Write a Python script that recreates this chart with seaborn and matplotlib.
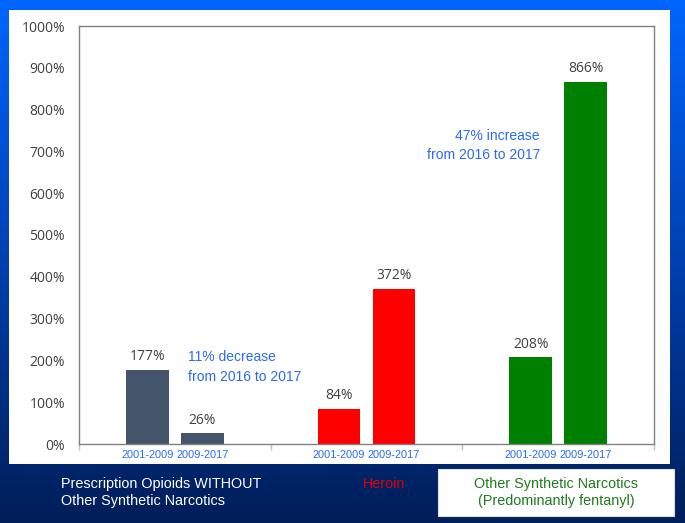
import numpy as np
import pandas as pd
import matplotlib
matplotlib.use("Agg")
import matplotlib.pyplot as plt
from matplotlib.colors import LinearSegmentedColormap
from matplotlib.patches import Rectangle
import seaborn as sns

# ---- data ----
categories = ["Prescription Opioids WITHOUT\nOther Synthetic Narcotics",
              "Heroin",
              "Other Synthetic Narcotics\n(Predominantly fentanyl)"]
periods = ["2001-2009", "2009-2017"]
values_2001_2009 = [177, 84, 208]
values_2009_2017 = [26, 372, 866]
bar_colors = ["#44546A", "#FF0000", "#008000"]
category_text_colors = ["#FFFFFF", "#E00000", "#1E7B1E"]
yticks = [0, 100, 200, 300, 400, 500, 600, 700, 800, 900, 1000]
note_decrease = "11% decrease\nfrom 2016 to 2017"
note_increase = "47% increase\nfrom 2016 to 2017"

df = pd.DataFrame({
    "category": categories * 2,
    "period": [periods[0]] * 3 + [periods[1]] * 3,
    "value": values_2001_2009 + values_2009_2017,
})

sns.set_theme(style="white")
plt.rcParams["font.family"] = ["Open Sans", "DejaVu Sans"]
ARIAL = ["Liberation Sans", "DejaVu Sans"]

W, H = 685, 523
fig = plt.figure(figsize=(W / 100, H / 100), dpi=100)

# background gradient
bg = fig.add_axes([0, 0, 1, 1], zorder=-10)
cmap = LinearSegmentedColormap.from_list("bgblue", ["#001E58", "#0040B0", "#0066FF"])
grad = np.linspace(0, 1, 256).reshape(-1, 1)
bg.imshow(grad, aspect="auto", cmap=cmap, extent=[0, 1, 0, 1], origin="lower")
bg.set_axis_off()

def fx(px):
    return px / W

def fy(py):
    return 1 - py / H

# white panel
fig.patches.append(Rectangle((fx(9), fy(464)), fx(670) - fx(9), fy(10) - fy(464),
                             transform=fig.transFigure, facecolor="white",
                             edgecolor="none", zorder=-5))
# green legend box
fig.patches.append(Rectangle((fx(438), fy(516)), fx(674) - fx(438), fy(469) - fy(516),
                             transform=fig.transFigure, facecolor="white",
                             edgecolor="#DDDDDD", linewidth=0.8, zorder=-5))

ax = fig.add_axes([fx(79), fy(444), fx(654) - fx(79), fy(26) - fy(444)])
sns.barplot(data=df, x="category", y="value", hue="period", order=categories,
            hue_order=periods, width=0.573, gap=0.22, legend=False, ax=ax,
            saturation=1, errorbar=None)

centers = []
labels = []
for i, cont in enumerate(ax.containers):
    for j, bar in enumerate(cont):
        bar.set_facecolor(bar_colors[j])
        bar.set_edgecolor("none")
        centers.append(bar.get_x() + bar.get_width() / 2)
        labels.append(periods[i])
    ax.bar_label(cont, fmt="%d%%", padding=4, fontsize=10, color="#404040")

ax.set_xlim(-0.5, len(categories) - 0.5)
ax.set_ylim(0, 1000)
ax.set_yticks(yticks)
ax.set_yticklabels([f"{v}%" for v in yticks], fontsize=10, color="#404040")
ax.tick_params(axis="y", length=0, pad=10)
ax.set_xticks(centers)
ax.set_xticklabels(labels, fontsize=7.9, color="#2A6BF0", fontfamily=ARIAL)
ax.set_xticks(np.arange(-0.5, len(categories)), minor=True)
ax.tick_params(axis="x", which="major", length=0, pad=4)
ax.tick_params(axis="x", which="minor", length=4, color="#BFBFBF", bottom=True)
ax.set_xlabel("")
ax.set_ylabel("")
for s in ax.spines.values():
    s.set_visible(True)
    s.set_color("#808080")
    s.set_linewidth(1.0)

ax.text(0.069, 224, note_decrease, ha="left", va="top", fontsize=10,
        color="#2A6BF0", fontfamily=ARIAL, linespacing=1.5)
ax.text(1.905, 754, note_increase, ha="right", va="top", multialignment="right",
        fontsize=10, color="#2A6BF0", fontfamily=ARIAL, linespacing=1.5)

# category labels under the chart
fig.text(fx(61), fy(477), categories[0], ha="left", va="top", fontsize=10.4,
         color=category_text_colors[0], fontfamily=ARIAL, linespacing=1.25)
fig.text(fx(384), fy(477), categories[1], ha="center", va="top", fontsize=10.4,
         color=category_text_colors[1], fontfamily=ARIAL)
fig.text(fx(556), fy(477), categories[2], ha="center", va="top", fontsize=10.4,
         color=category_text_colors[2], fontfamily=ARIAL,
         linespacing=1.3, multialignment="center")

fig.savefig("out.png", dpi=100)
